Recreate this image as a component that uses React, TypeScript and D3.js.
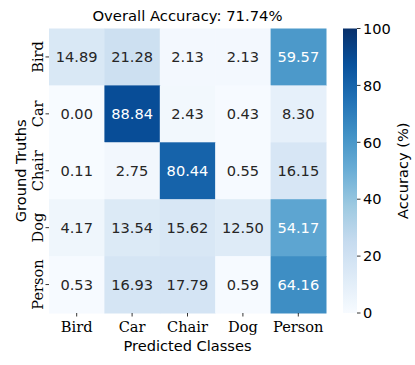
import * as d3 from "d3";

const classes = ["Bird", "Car", "Chair", "Dog", "Person"];
const matrix = [
  [14.89, 21.28, 2.13, 2.13, 59.57],
  [0.0, 88.84, 2.43, 0.43, 8.3],
  [0.11, 2.75, 80.44, 0.55, 16.15],
  [4.17, 13.54, 15.62, 12.5, 54.17],
  [0.53, 16.93, 17.79, 0.59, 64.16],
];
const cbarTicks = [0, 20, 40, 60, 80, 100];
const title = "Overall Accuracy: 71.74%";

// matplotlib "Blues" anchors
const blues = ["#f7fbff", "#deebf7", "#c6dbef", "#9ecae1", "#6baed6", "#4292c6", "#2171b5", "#08519c", "#08306b"];

const W = 415;
const H = 365;
const left = 49, right = 326, top = 28.5, bottom = 313;
const cbX = 343, cbW = 14;
const fs = 14.6;

const sans = "DejaVu Sans, sans-serif";
const serif = "DejaVu Serif, serif";

function textColor(c: string) {
  const rgb = d3.rgb(c);
  const lin = (v: number) => {
    v /= 255;
    return v <= 0.03928 ? v / 12.92 : Math.pow((v + 0.055) / 1.055, 2.4);
  };
  const lum = 0.2126 * lin(rgb.r) + 0.7152 * lin(rgb.g) + 0.0722 * lin(rgb.b);
  return lum > 0.408 ? "#262626" : "#ffffff";
}

export default function App() {
  const x = d3.scaleBand().domain(classes).range([left, right]);
  const y = d3.scaleBand().domain(classes).range([top, bottom]);
  const color = d3
    .scaleLinear<string>()
    .domain(blues.map((_, i) => (i * 100) / (blues.length - 1)))
    .range(blues)
    .interpolate(d3.interpolateRgb)
    .clamp(true);
  const cy = d3.scaleLinear().domain([0, 100]).range([bottom, top]);

  return (
    <svg width={W} height={H} style={{ position: "absolute", left: 0, top: 0 }}>
      <defs>
        <linearGradient id="cbar" x1="0" y1="1" x2="0" y2="0">
          {blues.map((c, i) => (
            <stop key={i} offset={i / (blues.length - 1)} stopColor={c} />
          ))}
        </linearGradient>
      </defs>
      <rect width={W} height={H} fill="#fff" />

      <text x={(left + right) / 2} y={20.5} textAnchor="middle" fontFamily={sans} fontSize={14.8} fill="#000">
        {title}
      </text>

      {/* cells */}
      {matrix.map((row, i) =>
        row.map((v, j) => {
          const fill = color(v);
          return (
            <g key={`${i}-${j}`}>
              <rect
                x={x(classes[j])!}
                y={y(classes[i])!}
                width={x.bandwidth() + 0.5}
                height={y.bandwidth() + 0.5}
                fill={fill}
              />
              <text
                x={x(classes[j])! + x.bandwidth() / 2}
                y={y(classes[i])! + y.bandwidth() / 2}
                dy="0.36em"
                textAnchor="middle"
                fontFamily={sans}
                fontSize={fs}
                fill={textColor(fill)}
              >
                {v.toFixed(2)}
              </text>
            </g>
          );
        })
      )}

      {/* x axis */}
      {classes.map((c) => {
        const cx = x(c)! + x.bandwidth() / 2;
        return (
          <g key={"x" + c}>
            <line x1={cx} x2={cx} y1={bottom} y2={bottom + 3.5} stroke="#000" strokeWidth={0.8} />
            <text x={cx} y={332} textAnchor="middle" fontFamily={serif} fontSize={fs} fill="#000">
              {c}
            </text>
          </g>
        );
      })}
      <text x={(left + right) / 2} y={351} textAnchor="middle" fontFamily={sans} fontSize={fs} fill="#000">
        Predicted Classes
      </text>

      {/* y axis */}
      {classes.map((c) => {
        const yy = y(c)! + y.bandwidth() / 2;
        return (
          <g key={"y" + c}>
            <line x1={left - 3.5} x2={left} y1={yy} y2={yy} stroke="#000" strokeWidth={0.8} />
            <text
              transform={`translate(43,${yy}) rotate(-90)`}
              textAnchor="middle"
              fontFamily={serif}
              fontSize={fs}
              fill="#000"
            >
              {c}
            </text>
          </g>
        );
      })}
      <text
        transform={`translate(25.5,${(top + bottom) / 2}) rotate(-90)`}
        textAnchor="middle"
        fontFamily={sans}
        fontSize={fs}
        fill="#000"
      >
        Ground Truths
      </text>

      {/* colorbar */}
      <rect x={cbX} y={top} width={cbW} height={bottom - top} fill="url(#cbar)" />
      {cbarTicks.map((t) => (
        <g key={"c" + t}>
          <line x1={cbX + cbW} x2={cbX + cbW + 3.5} y1={cy(t)} y2={cy(t)} stroke="#000" strokeWidth={0.8} />
          <text x={cbX + cbW + 6} y={cy(t)} dy="0.36em" fontFamily={sans} fontSize={fs} fill="#000">
            {t}
          </text>
        </g>
      ))}
      <text
        transform={`translate(407.5,${(top + bottom) / 2}) rotate(-90)`}
        textAnchor="middle"
        fontFamily={sans}
        fontSize={fs}
        fill="#000"
      >
        Accuracy (%)
      </text>
    </svg>
  );
}
